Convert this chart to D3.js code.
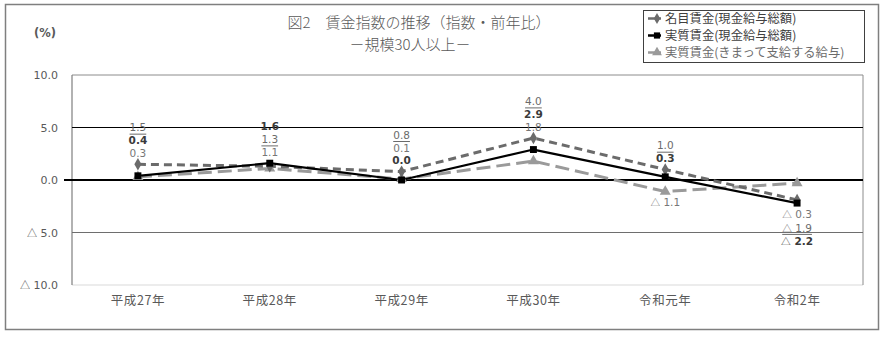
<!DOCTYPE html>
<html>
<head>
<meta charset="utf-8">
<script src="https://cdn.jsdelivr.net/npm/d3@7"></script>
<style>
  html, body { margin: 0; padding: 0; background: #fff; }
  svg { display: block; }
</style>
</head>
<body>
<div id="chart"></div>
<script>
// Year categories and year-on-year change (%) of the wage indices
const categories = ["平成27年", "平成28年", "平成29年", "平成30年", "令和元年", "令和2年"];
const nominalTotal = [1.5, 1.3, 0.8, 4.0, 1.0, -1.9];   // 名目賃金（現金給与総額）
const realTotal    = [0.4, 1.6, 0.0, 2.9, 0.3, -2.2];   // 実質賃金（現金給与総額）
const realFixed    = [0.3, 1.1, 0.1, 1.8, -1.1, -0.3];  // 実質賃金（きまって支給する給与）
const yTicks = [10, 5, 0, -5, -10];
const seriesNames = ["名目賃金(現金給与総額)", "実質賃金(現金給与総額)", "実質賃金(きまって支給する給与)"];

const W = 890, H = 339;
const plot = { left: 72, right: 863, top: 75, bottom: 285 };
const numFont = "'DejaVu Sans', Verdana, sans-serif";
const jpFont = "'Noto Sans CJK JP', 'Noto Sans', sans-serif";
const textGray = "#595959";

const svg = d3.select("#chart").append("svg").attr("width", W).attr("height", H);

// outer frame
svg.append("rect").attr("x", 5.5).attr("y", 4.5).attr("width", 873).attr("height", 325)
  .attr("fill", "#fff").attr("stroke", "#7f7f7f").attr("stroke-width", 1.5);

const x = d3.scaleBand().domain(categories).range([plot.left, plot.right]).padding(0);
const y = d3.scaleLinear().domain([-10, 10]).range([plot.bottom, plot.top]);
const cx = c => x(c) + x.bandwidth() / 2;

// negative values are written with a leading triangle mark
const numPart = v => (v < 0 ? " " : "") + Math.abs(v).toFixed(1);
function writeValue(textSel, v) {
  textSel.text(null);
  if (v < 0) textSel.append("tspan").attr("font-family", jpFont).attr("font-weight", "normal")
    .attr("font-size", "0.92em").text("△");
  textSel.append("tspan").text(numPart(v));
}

// plot area frame
svg.append("line").attr("x1", plot.left).attr("x2", plot.right).attr("y1", y(10)).attr("y2", y(10))
  .attr("stroke", "#8c8c8c").attr("stroke-width", 1);
svg.append("line").attr("x1", plot.left).attr("x2", plot.right).attr("y1", y(-10)).attr("y2", y(-10))
  .attr("stroke", "#d9d9d9").attr("stroke-width", 1);
svg.append("line").attr("x1", plot.left).attr("x2", plot.left).attr("y1", y(10)).attr("y2", y(-10))
  .attr("stroke", "#7f7f7f").attr("stroke-width", 1.2);
svg.append("line").attr("x1", plot.right).attr("x2", plot.right).attr("y1", y(10)).attr("y2", y(-10))
  .attr("stroke", "#8c8c8c").attr("stroke-width", 1);

// gridlines
svg.append("line").attr("x1", plot.left).attr("x2", plot.right).attr("y1", y(5)).attr("y2", y(5))
  .attr("stroke", "#000").attr("stroke-width", 1);
svg.append("line").attr("x1", plot.left).attr("x2", plot.right).attr("y1", y(-5)).attr("y2", y(-5))
  .attr("stroke", "#6e6e6e").attr("stroke-width", 1);

// y axis labels
const yAxis = d3.axisLeft(y).tickValues(yTicks).tickSize(0).tickPadding(0);
const gy = svg.append("g").attr("transform", `translate(58,0)`).call(yAxis);
gy.select(".domain").remove();
gy.selectAll("text").attr("font-family", numFont).attr("font-size", 11).attr("fill", textGray)
  .each(function (d) { writeValue(d3.select(this), d); });

// zero line, extended left as a tick
svg.append("line").attr("x1", 64).attr("x2", plot.right).attr("y1", y(0)).attr("y2", y(0))
  .attr("stroke", "#000").attr("stroke-width", 2);

// x axis labels
const xAxis = d3.axisBottom(x).tickSize(0).tickPadding(0);
const gx = svg.append("g").attr("transform", `translate(0,${plot.bottom + 11})`).call(xAxis);
gx.select(".domain").remove();
gx.selectAll("text").attr("font-family", jpFont).attr("font-size", 12.5)
  .attr("letter-spacing", "0.6px").attr("fill", textGray);

// series
const series = [
  { key: "nominal", values: nominalTotal, color: "#6b6b6b", width: 3, dash: "8,5", marker: "diamond",
    labelColor: "#6b6b6b", weight: "normal", underline: true },
  { key: "realTotal", values: realTotal, color: "#000", width: 2.2, dash: null, marker: "square",
    labelColor: "#3a3a3a", weight: "bold", underline: false },
  { key: "realFixed", values: realFixed, color: "#9a9a9a", width: 3, dash: "14,6", marker: "triangle",
    labelColor: "#777", weight: "normal", underline: false }
];

const line = d3.line().x((d, i) => cx(categories[i])).y(d => y(d));

// draw back to front: fixed, nominal, total
[series[2], series[0], series[1]].forEach(s => {
  svg.append("path").datum(s.values).attr("d", line)
    .attr("fill", "none").attr("stroke", s.color).attr("stroke-width", s.width)
    .attr("stroke-dasharray", s.dash).attr("stroke-linejoin", "round");
});

const symbolType = { diamond: d3.symbolDiamond, square: d3.symbolSquare, triangle: d3.symbolTriangle };
const symbolSize = { diamond: 44, square: 48, triangle: 52 };
[series[2], series[0], series[1]].forEach(s => {
  svg.append("g").selectAll("path").data(s.values).join("path")
    .attr("transform", (d, i) => `translate(${cx(categories[i])},${y(d)})`)
    .attr("d", d3.symbol().type(symbolType[s.marker]).size(symbolSize[s.marker]))
    .attr("fill", s.color);
});

// value labels, stacked above (non-negative) or below (negative) each year's points
const labelGap = 12.8, negGap = 13.8;
categories.forEach((c, i) => {
  const items = series.map(s => ({ s, v: s.values[i] }));
  const all = items.map(d => d.v);
  const pos = items.filter(d => d.v >= 0).sort((a, b) => b.v - a.v);
  const neg = items.filter(d => d.v < 0).sort((a, b) => b.v - a.v);
  const top = y(d3.max(all)), bottom = y(d3.min(all));
  pos.forEach((d, k) => { d.cy = top - 11 - (pos.length - 1 - k) * labelGap; });
  neg.forEach((d, k) => { d.cy = bottom + 11 + k * negGap; });
  pos.concat(neg).forEach(d => {
    const t = svg.append("text").attr("x", cx(c)).attr("y", d.cy).attr("dy", "0.36em")
      .attr("text-anchor", "middle").attr("font-family", numFont).attr("font-size", 10.5)
      .attr("font-weight", d.s.weight).attr("fill", d.s.labelColor);
    writeValue(t, d.v);
    if (d.s.underline) {
      const w = t.node().getComputedTextLength();
      svg.append("line").attr("x1", cx(c) - w / 2).attr("x2", cx(c) + w / 2)
        .attr("y1", d.cy + 6.5).attr("y2", d.cy + 6.5)
        .attr("stroke", d.s.labelColor).attr("stroke-width", 1);
    }
  });
});

// title
svg.append("text").attr("x", 419).attr("y", 23).attr("dy", "0.35em").attr("text-anchor", "middle")
  .attr("font-family", jpFont).attr("font-size", 15).attr("font-weight", 300).attr("fill", textGray)
  .text("図2　賃金指数の推移（指数・前年比）");
svg.append("text").attr("x", 410).attr("y", 45).attr("dy", "0.35em").attr("text-anchor", "middle")
  .attr("font-family", jpFont).attr("font-size", 15).attr("font-weight", 300).attr("fill", textGray)
  .text("－規模30人以上－");
svg.append("text").attr("x", 45).attr("y", 33).attr("dy", "0.35em").attr("text-anchor", "middle")
  .attr("font-family", numFont).attr("font-size", 11.5).attr("font-weight", "bold").attr("fill", textGray)
  .text("(%)");

// legend
svg.append("rect").attr("x", 643.5).attr("y", 10.5).attr("width", 221).attr("height", 52)
  .attr("fill", "#fff").attr("stroke", "#404040").attr("stroke-width", 1);
const legendY = [18.5, 35.5, 52.5];
series.forEach((s, k) => {
  const g = svg.append("g").attr("transform", `translate(0,${legendY[k]})`);
  g.append("line").attr("x1", 648).attr("x2", 661).attr("y1", 0).attr("y2", 0)
    .attr("stroke", s.color).attr("stroke-width", 2.5);
  g.append("path").attr("transform", "translate(657,0)")
    .attr("d", d3.symbol().type(symbolType[s.marker]).size(symbolSize[s.marker] * 0.8))
    .attr("fill", s.color);
  g.append("text").attr("x", 665).attr("y", 0).attr("dy", "0.35em")
    .attr("font-family", jpFont).attr("font-size", 12.3).attr("fill", k === 2 ? "#6b6b6b" : "#404040")
    .text(seriesNames[k]);
});
</script>
</body>
</html>
